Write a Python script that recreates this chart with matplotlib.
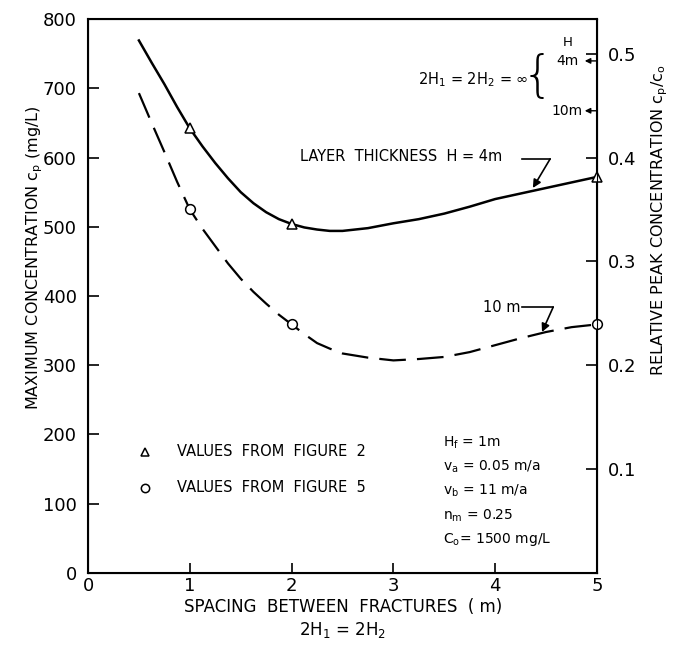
import matplotlib
matplotlib.use("Agg")
import matplotlib.pyplot as plt

plt.rcParams['font.family'] = ['DejaVu Sans']
plt.rcParams['mathtext.default'] = 'regular'

# layer thickness H = 4m (solid)
x_4m = [0.5, 0.625, 0.75, 0.875, 1.0, 1.125, 1.25, 1.375, 1.5, 1.625, 1.75, 1.875, 2.0, 2.125,
        2.25, 2.375, 2.5, 2.75, 3.0, 3.25, 3.5, 3.75, 4.0, 4.25, 4.5, 4.75, 5.0]
y_4m = [769, 737, 706, 673, 642, 616, 592, 570, 550, 534, 521, 511, 504, 499,
        496, 494, 494, 498, 505, 511, 519, 529, 540, 548, 556, 564, 572]

# layer thickness 10 m (dashed)
x_10m = [0.5, 0.625, 0.75, 0.875, 1.0, 1.125, 1.25, 1.375, 1.5, 1.625, 1.75, 1.875, 2.0, 2.125,
         2.25, 2.375, 2.5, 2.75, 3.0, 3.25, 3.5, 3.75, 4.0, 4.25, 4.5, 4.75, 5.0]
y_10m = [693, 650, 608, 565, 525, 497, 472, 447, 425, 406, 389, 373, 359, 345,
         332, 324, 317, 311, 307, 309, 312, 319, 329, 339, 348, 355, 359]

# points from figure 2 (triangles) and figure 5 (circles)
fig2_x = [1, 2, 5]
fig2_y = [642, 504, 572]
fig5_x = [1, 2, 5]
fig5_y = [525, 359, 359]

# infinite spacing values on right axis (cp/co)
inf_labels = ['4m', '10m']
inf_vals = [0.493, 0.445]

co = 1500.0

params = ['H$_f$ = 1m', 'v$_a$ = 0.05 m/a', 'v$_b$ = 11 m/a', 'n$_m$ = 0.25', 'C$_o$= 1500 mg/L']

fig = plt.figure(figsize=(6.75, 6.58), dpi=100)
ax = fig.add_axes([0.1304, 0.1292, 0.7540, 0.8419])

ax.plot(x_4m, y_4m, color='black', lw=1.8)
ax.plot(x_10m, y_10m, color='black', lw=1.6, dashes=(12, 5))
ax.plot(fig2_x, fig2_y, ls='none', marker='^', ms=7, mfc='white', mec='black', mew=1.1, clip_on=False, zorder=5)
ax.plot(fig5_x, fig5_y, ls='none', marker='o', ms=7, mfc='white', mec='black', mew=1.1, clip_on=False, zorder=5)

ax.set_xlim(0, 5)
ax.set_ylim(0, 800)
ax.set_xticks([0, 1, 2, 3, 4, 5])
ax.set_xticklabels(['0', '1', '2', '3', '4', '5'])
ax.set_yticks(range(0, 801, 100))
ax.tick_params(axis='y', direction='in', length=8, width=1.2, labelsize=13, pad=8)
ax.tick_params(axis='x', direction='in', length=7, width=1.2, labelsize=13, pad=3)
for s in ax.spines.values():
    s.set_linewidth(1.5)

ax2 = ax.twinx()
ax2.set_ylim(0, 800 / co)
ax2.set_yticks([0.1, 0.2, 0.3, 0.4, 0.5])
ax2.set_yticklabels(['0.1', '0.2', '0.3', '0.4', '0.5'])
ax2.tick_params(axis='y', direction='in', length=8, width=1.2, labelsize=13, pad=8)

# legend
ax.plot([0.56], [175], ls='none', marker='^', ms=6, mfc='white', mec='black', mew=1.1)
ax.plot([0.56], [123], ls='none', marker='o', ms=6, mfc='white', mec='black', mew=1.1)
ax.text(0.875, 175, 'VALUES  FROM  FIGURE  2', fontsize=10.5, va='center', ha='left')
ax.text(0.875, 123, 'VALUES  FROM  FIGURE  5', fontsize=10.5, va='center', ha='left')

# parameters
for i, p in enumerate(params):
    ax.text(3.49, 188 - i * 35, p, fontsize=10, va='center', ha='left')

# curve labels
ax.text(2.08, 601, 'LAYER  THICKNESS  H = 4m', fontsize=10.5, va='center', ha='left')
ax.plot([4.26, 4.54], [598, 598], color='black', lw=1.2)
ax.annotate('', xy=(4.37, 556), xytext=(4.54, 598),
            arrowprops=dict(arrowstyle='-|>', color='black', lw=1.2, mutation_scale=12, shrinkA=0, shrinkB=0))

ax.text(3.88, 384, '10 m', fontsize=10.5, va='center', ha='left')
ax.plot([4.26, 4.57], [384, 384], color='black', lw=1.2)
ax.annotate('', xy=(4.46, 348), xytext=(4.57, 384),
            arrowprops=dict(arrowstyle='-|>', color='black', lw=1.2, mutation_scale=12, shrinkA=0, shrinkB=0))

# infinite spacing markers
ax.text(4.33, 712, '2H$_1$ = 2H$_2$ = ∞', fontsize=10.5, va='center', ha='right')
ax.text(4.42, 716, '{', fontsize=36, va='center', ha='center', fontweight='light')
ax.text(4.71, 766, 'H', fontsize=9.5, va='center', ha='center')
for lab, v in zip(inf_labels, inf_vals):
    ax.text(4.71, v * co, lab, fontsize=10, va='center', ha='center')
    ax.annotate('', xy=(4.88, v * co), xytext=(5.0, v * co),
                arrowprops=dict(arrowstyle='-|>', color='black', lw=1.0, mutation_scale=8, shrinkA=0, shrinkB=0))

# axis labels
fig.text(0.052, 0.609, 'MAXIMUM CONCENTRATION c$_p$ (mg/L)', rotation=90, fontsize=11.5, ha='center', va='center')
fig.text(0.978, 0.666, 'RELATIVE PEAK CONCENTRATION c$_p$/c$_o$', rotation=90, fontsize=11.5, ha='center', va='center')
fig.text(0.508, 0.078, 'SPACING  BETWEEN  FRACTURES  ( m)', fontsize=12, ha='center', va='center')
fig.text(0.508, 0.042, '2H$_1$ = 2H$_2$', fontsize=12, ha='center', va='center')

plt.savefig('out.png', dpi=100)
